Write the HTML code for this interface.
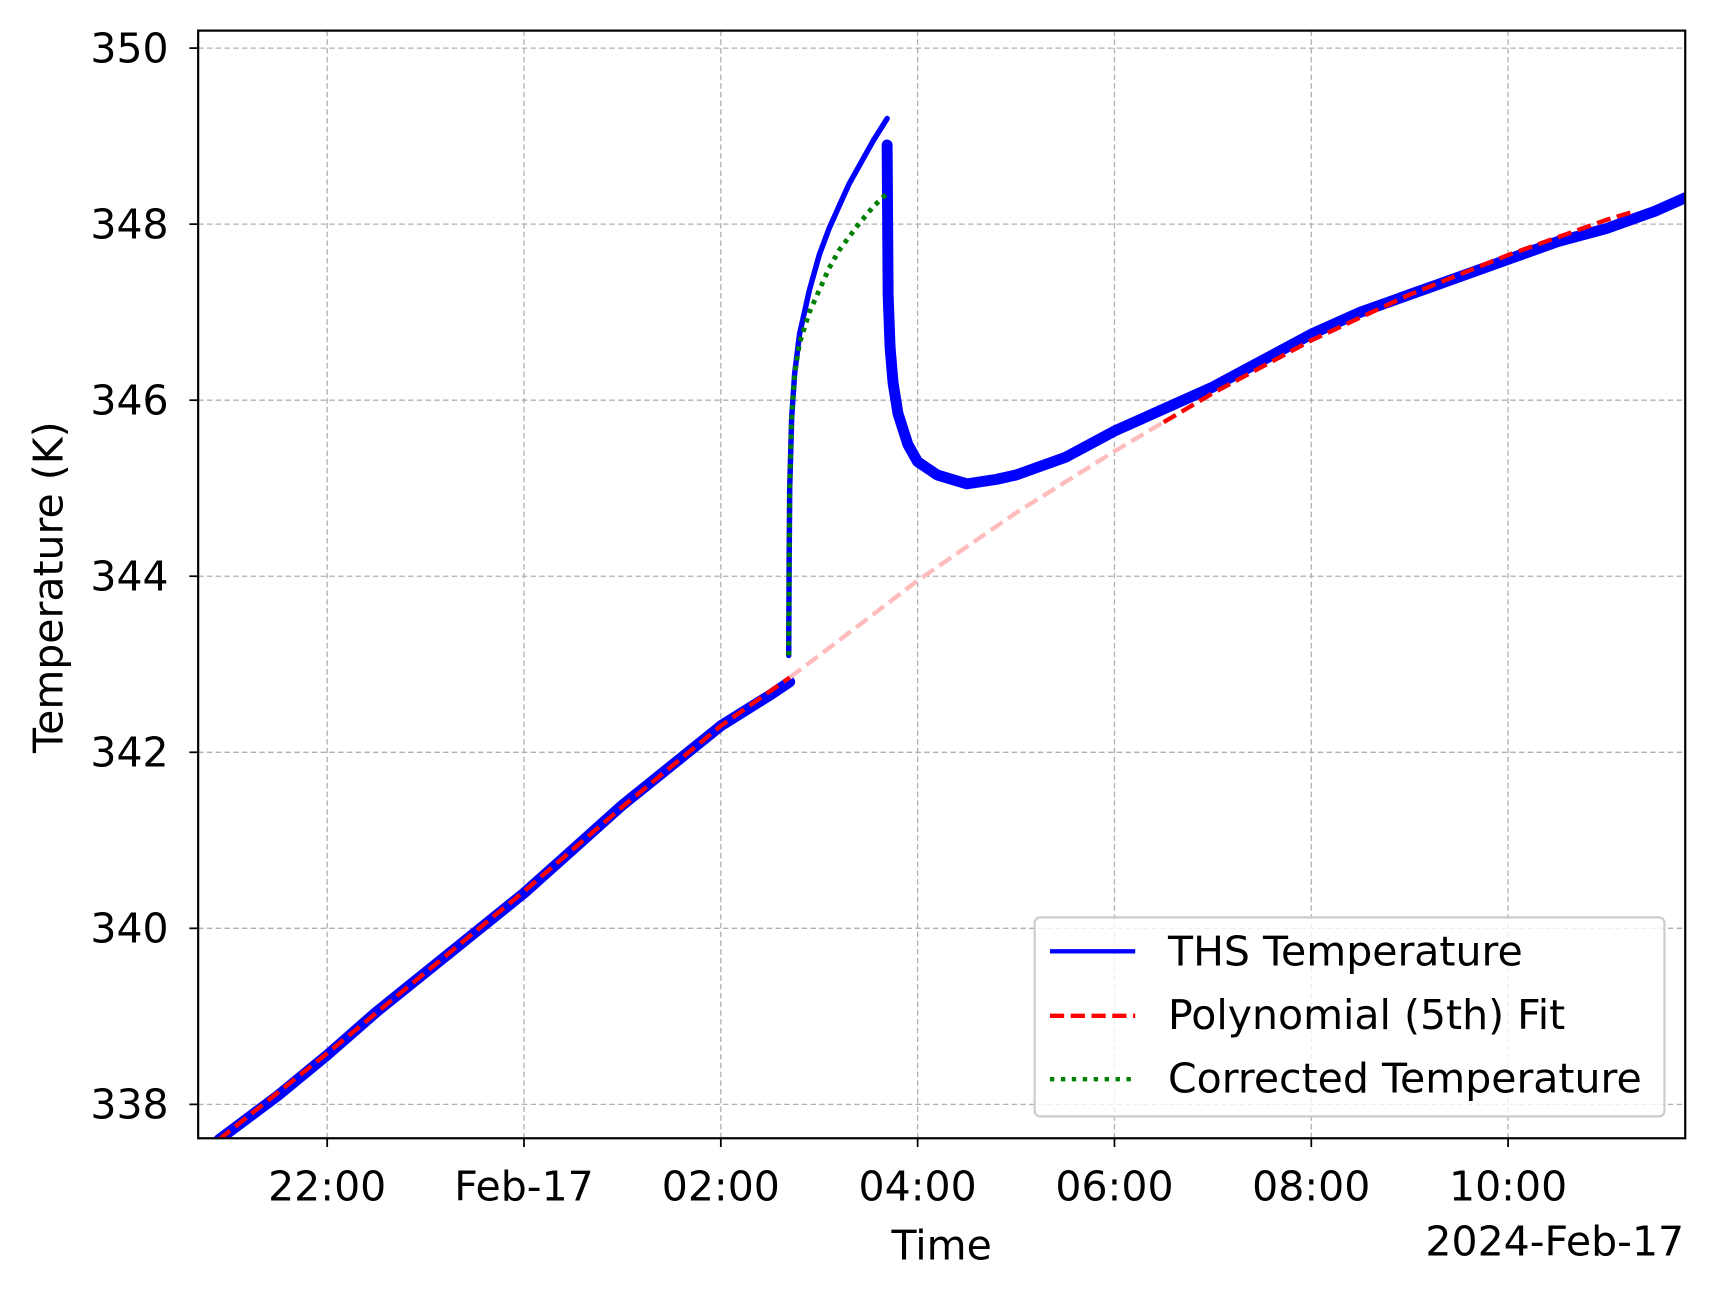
<!DOCTYPE html>
<html><head><meta charset="utf-8"><style>
html,body{margin:0;padding:0;background:#fff;}
svg{display:block;font-family:"DejaVu Sans","Liberation Sans",sans-serif;}
</style></head><body>
<svg id="chart" width="1715" height="1299" viewBox="0 0 1568 1188" xmlns="http://www.w3.org/2000/svg">
<rect width="1568" height="1188" fill="#fff"/>
<g id="grid"></g>
<g id="series"></g>
<rect x="181" y="28" width="1360" height="1013" fill="none" stroke="#000" stroke-width="2"/>
<g id="ticks"></g>
<text x="861" y="1152" font-size="37.5" text-anchor="middle">Time</text>
<text x="1540" y="1148" font-size="37.5" text-anchor="end">2024-Feb-17</text>
<text transform="translate(57,537) rotate(-90)" font-size="37.5" text-anchor="middle">Temperature (K)</text>
<g>
<rect x="946" y="839" width="576" height="182" rx="5" fill="#fff" fill-opacity="0.8" stroke="#ccc" stroke-width="2"/>
<line x1="960" y1="870" x2="1038" y2="870" stroke="#0000ff" stroke-width="4"/>
<text x="1068" y="883" font-size="37.5">THS Temperature</text>
<line x1="960" y1="929" x2="1038" y2="929" stroke="#ff0000" stroke-width="4" stroke-dasharray="13,6"/>
<text x="1068" y="941" font-size="37.5">Polynomial (5th) Fit</text>
<line x1="960" y1="987" x2="1038" y2="987" stroke="#008000" stroke-width="4" stroke-dasharray="4,6"/>
<text x="1068" y="999" font-size="37.5">Corrected Temperature</text>
</g>
</svg>
<script>
// hours relative to 2024-02-17 00:00
const xTickHours = [-2, 0, 2, 4, 6, 8, 10];
const xTickLabels = ["22:00", "Feb-17", "02:00", "04:00", "06:00", "08:00", "10:00"];
const yTickValues = [338, 340, 342, 344, 346, 348, 350];
const thsPreHours = [-3.1, -2.5, -2, -1.5, -1, -0.5, 0, 0.5, 1, 1.5, 2, 2.5, 2.7];
const thsPreTemps = [337.6, 338.1, 338.56, 339.05, 339.5, 339.95, 340.4, 340.9, 341.4, 341.85, 342.3, 342.65, 342.8];
const thsHumpHours = [2.69, 2.695, 2.7, 2.72, 2.75, 2.8, 2.9, 3.0, 3.1, 3.2, 3.3, 3.4, 3.55, 3.69];
const thsHumpTemps = [343.1, 344.2, 345.0, 345.8, 346.3, 346.75, 347.25, 347.65, 347.95, 348.2, 348.45, 348.65, 348.95, 349.2];
const thsPostHours = [3.69, 3.7, 3.72, 3.75, 3.8, 3.9, 4.0, 4.2, 4.5, 4.8, 5.0, 5.5, 6.0, 6.5, 7.0, 7.5, 8.0, 8.5, 9.0, 9.5, 10.0, 10.5, 11.0, 11.5, 11.8];
const thsPostTemps = [348.9, 347.2, 346.6, 346.2, 345.85, 345.5, 345.3, 345.15, 345.05, 345.1, 345.15, 345.35, 345.65, 345.9, 346.15, 346.45, 346.75, 347.0, 347.2, 347.4, 347.6, 347.8, 347.95, 348.15, 348.3];
const fitHours = [-3.1, -2, -1, 0, 1, 2, 2.7, 3, 4, 5, 6, 6.5, 7, 8, 9, 10, 11, 11.3];
const fitTemps = [337.6, 338.58, 339.5, 340.42, 341.38, 342.3, 342.85, 343.1, 343.95, 344.72, 345.42, 345.75, 346.08, 346.68, 347.2, 347.65, 348.05, 348.15];
const corrHours = [2.69, 2.7, 2.72, 2.75, 2.8, 2.9, 3.0, 3.1, 3.2, 3.3, 3.4, 3.55, 3.69];
const corrTemps = [343.1, 345.0, 345.8, 346.3, 346.65, 347.0, 347.25, 347.5, 347.7, 347.85, 348.0, 348.2, 348.35];
const fitPaleStart = 2.7, fitPaleEnd = 6.5;

const NS = "http://www.w3.org/2000/svg";
const X = h => 479 + 90 * h;
const Y = v => 1010 - (v - 338) * 80.5;
function mk(tag, attrs, parent) { const e = document.createElementNS(NS, tag); for (const k in attrs) e.setAttribute(k, attrs[k]); parent.appendChild(e); return e; }
const grid = document.getElementById('grid'), ticks = document.getElementById('ticks'), ser = document.getElementById('series');
xTickHours.forEach((h, i) => {
  const g = mk('line', {x1: X(h), x2: X(h), y1: 28, y2: 1041, stroke: '#b0b0b0', 'stroke-width': 1.2, 'stroke-dasharray': '5,3'}, grid);
  
  
  const t = mk('line', {x1: X(h), x2: X(h), y1: 1041, y2: 1049, stroke: '#000', 'stroke-width': 1.6}, ticks);
  
  
  const l = mk('text', {x: X(h), y: 1098, 'font-size': 37.5, 'text-anchor': 'middle'}, ticks);
  l.textContent = xTickLabels[i];
  
  
});
yTickValues.forEach(v => {
  const g = mk('line', {x1: 181, x2: 1541, y1: Y(v), y2: Y(v), stroke: '#b0b0b0', 'stroke-width': 1.2, 'stroke-dasharray': '5,3'}, grid);
  
  
  const t = mk('line', {x1: 173, x2: 181, y1: Y(v), y2: Y(v), stroke: '#000', 'stroke-width': 1.6}, ticks);
  
  
  const l = mk('text', {x: 154, y: Y(v) + 13, 'font-size': 37.5, 'text-anchor': 'end'}, ticks);
  l.textContent = String(v);
  
  
});
function pts(hs, vs) { return hs.map((h, i) => X(h).toFixed(1) + ',' + Y(vs[i]).toFixed(1)).join(' '); }
const clip = mk('clipPath', {id: 'pc'}, ser); mk('rect', {x: 181, y: 28, width: 1360, height: 1013}, clip);
ser.setAttribute('clip-path', 'url(#pc)');
[[thsPreHours, thsPreTemps, 'ths-pre'], [thsHumpHours, thsHumpTemps, 'ths-hump'], [thsPostHours, thsPostTemps, 'ths-post']].forEach(([hs, vs, n], k) => {
  const p = mk('polyline', {points: pts(hs, vs), fill: 'none', stroke: '#0000ff', 'stroke-width': k === 1 ? 5 : 10, 'stroke-linejoin': 'round', 'stroke-linecap': 'round'}, ser);
  
  
});
function fitSub(a, b) { const hs = [], vs = []; fitHours.forEach((h, i) => { if (h >= a && h <= b) { hs.push(h); vs.push(fitTemps[i]); } }); return [hs, vs]; }
const pale = fitSub(fitPaleStart, fitPaleEnd);
const pp = mk('polyline', {points: pts(pale[0], pale[1]), fill: 'none', stroke: '#ffbcbc', 'stroke-width': 4, 'stroke-dasharray': '13,6'}, ser);


[fitSub(-99, fitPaleStart), fitSub(fitPaleEnd, 99)].forEach(s => {
  const p = mk('polyline', {points: pts(s[0], s[1]), fill: 'none', stroke: '#ff0000', 'stroke-width': 4, 'stroke-dasharray': '13,6'}, ser);
  
  
});
const cp = mk('polyline', {points: pts(corrHours, corrTemps), fill: 'none', stroke: '#008000', 'stroke-width': 4.5, 'stroke-dasharray': '4,5'}, ser);


</script>
</body></html>
